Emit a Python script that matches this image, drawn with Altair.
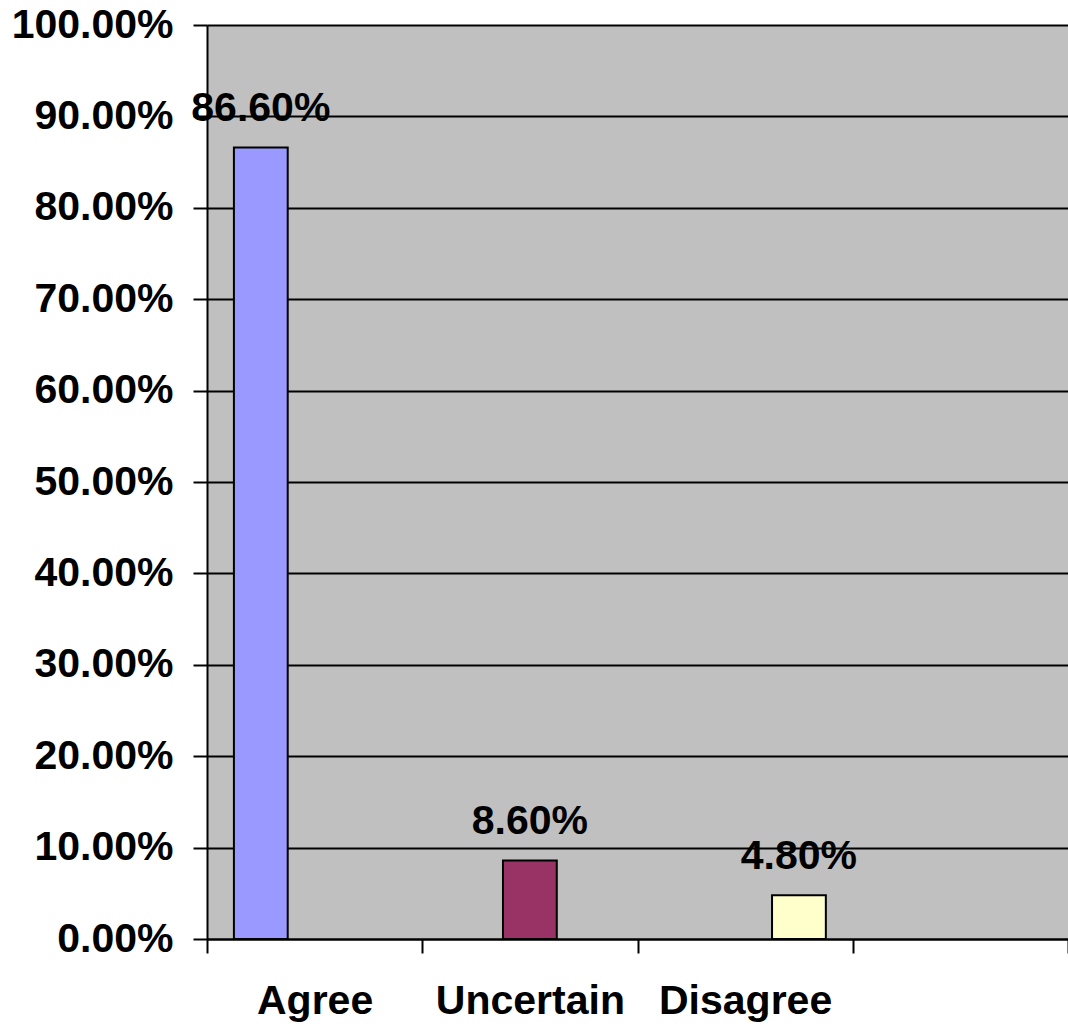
import altair as alt
import pandas as pd

categories = ["Agree", "Uncertain", "Disagree"]
values = [0.866, 0.086, 0.048]
colors = ["#9999FF", "#993366", "#FFFFCC"]
x_domain = categories + ["_"]

df = pd.DataFrame({"cat": categories, "value": values})

FONT = "Liberation Sans"

x_enc = alt.X(
    "cat:N",
    scale=alt.Scale(domain=x_domain, paddingInner=0, paddingOuter=0),
    axis=alt.Axis(
        title=None,
        labelAngle=0,
        labelFont=FONT,
        labelFontSize=41,
        labelFontWeight="bold",
        labelColor="black",
        labelPadding=28,
        labelLimit=1000,
        labelExpr="datum.value == '_' ? '' : datum.value",
        tickBand="extent",
        tickColor="black",
        tickSize=14,
        tickWidth=2,
        domainColor="black",
        domainWidth=2,
        grid=False,
    ),
)
xoff = alt.XOffset(
    "cat:N", scale=alt.Scale(domain=categories, paddingInner=0, paddingOuter=0.5)
)
y_enc = alt.Y(
    "value:Q",
    scale=alt.Scale(domain=[0, 1], nice=False),
    axis=alt.Axis(
        title=None,
        format=".2%",
        values=[i / 10 for i in range(11)],
        labelFont=FONT,
        labelFontSize=41,
        labelFontWeight="bold",
        labelColor="black",
        labelPadding=20,
        labelLimit=1000,
        tickColor="black",
        tickSize=14,
        tickWidth=2,
        domainColor="black",
        domainWidth=2,
        grid=True,
        gridColor="black",
        gridWidth=2,
        gridOpacity=1,
    ),
)

bars = alt.Chart(df).mark_bar(stroke="black", strokeWidth=2).encode(
    x=x_enc,
    xOffset=xoff,
    y=y_enc,
    color=alt.Color(
        "cat:N", scale=alt.Scale(domain=categories, range=colors), legend=None
    ),
)

labels = alt.Chart(df).mark_text(
    font=FONT,
    fontSize=41,
    fontWeight="bold",
    color="black",
    align="center",
    baseline="alphabetic",
    dy=-26,
).encode(
    x=x_enc,
    xOffset=xoff,
    y=y_enc,
    text=alt.Text("value:Q", format=".2%"),
)

chart = (
    alt.layer(bars, labels)
    .properties(
        width=861,
        height=914,
        autosize=alt.AutoSizeParams(type="none"),
        padding={"left": 207, "top": 25, "right": 0, "bottom": 87},
        background="white",
    )
    .configure_view(fill="#C0C0C0", stroke="transparent")
)

chart.save("out.html", embed_options={"renderer": "svg", "actions": False})
